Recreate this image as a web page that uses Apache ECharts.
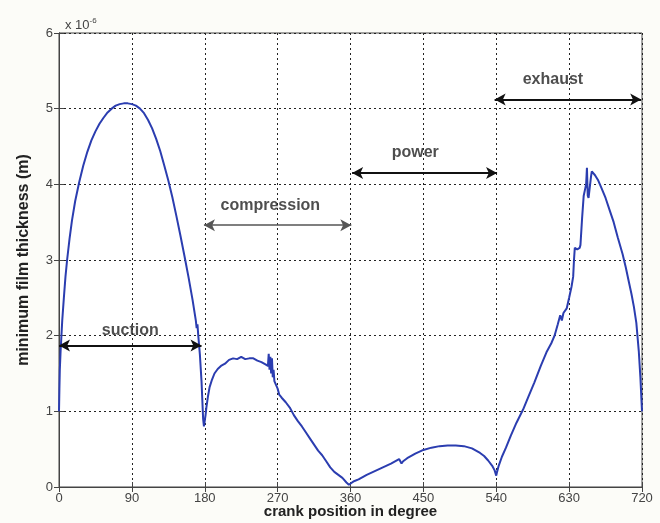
<!DOCTYPE html>
<html><head><meta charset="utf-8">
<script src="https://cdn.jsdelivr.net/npm/echarts@6/dist/echarts.min.js"></script>
<style>html,body{margin:0;padding:0;background:#fcfcf8}#c{width:660px;height:523px}</style>
</head><body><div id="c"></div>
<script>
// crank angle (deg) and minimum film thickness (x 1e-6 m)
const crankDeg = [0,0.5,1,2,3,4,6,8,10,13,16,20,25,30,35,40,45,50,55,60,65,70,75,80,85,90,95,100,105,110,115,120,125,130,135,140,145,150,155,160,165,169,170,171,172,174,176,177,178,179,180,181,182,184,186,189,192,196,200,205,210,215,220,225,230,235,240,245,250,255,258,259,260,261,262,263,264,265,266,268,270,272,275,280,285,290,295,300,305,310,315,320,325,330,335,340,345,350,355,358,360,362,365,370,380,390,400,410,420,422,423,425,430,440,450,460,470,480,490,500,510,520,525,530,535,538,540,541,543,547,552,558,565,573,580,587,595,602,608,612,616,619,621,623,627,630,633,635,636,637,640,643,644,646,648,650,651,652,653,654,656,657,658,662,666,670,675,680,685,690,696,700,704,707,710,713,716,718,720];
const filmThickness = [1.0,1.3,1.55,1.8,2.0,2.2,2.5,2.78,3.0,3.28,3.52,3.78,4.03,4.25,4.43,4.58,4.7,4.8,4.88,4.95,5.0,5.04,5.06,5.07,5.07,5.06,5.04,5.0,4.94,4.85,4.74,4.6,4.44,4.25,4.05,3.83,3.58,3.32,3.05,2.77,2.47,2.2,2.1,2.15,2.0,1.75,1.4,1.15,0.9,0.8,0.82,0.95,1.05,1.2,1.32,1.42,1.5,1.56,1.6,1.63,1.68,1.7,1.69,1.72,1.69,1.7,1.7,1.67,1.65,1.62,1.6,1.76,1.55,1.72,1.5,1.7,1.45,1.55,1.4,1.35,1.3,1.22,1.18,1.12,1.05,0.95,0.87,0.8,0.72,0.64,0.56,0.48,0.42,0.34,0.26,0.2,0.16,0.12,0.06,0.03,0.02,0.06,0.08,0.1,0.16,0.21,0.26,0.31,0.37,0.38,0.31,0.34,0.38,0.44,0.49,0.52,0.54,0.55,0.55,0.54,0.51,0.45,0.41,0.35,0.28,0.22,0.15,0.2,0.28,0.4,0.52,0.68,0.85,1.02,1.2,1.38,1.6,1.78,1.9,2.0,2.15,2.27,2.2,2.3,2.36,2.5,2.65,2.78,3.0,3.16,3.14,3.16,3.2,3.55,3.85,3.95,4.0,4.22,3.85,3.82,3.8,4.1,4.17,4.12,4.05,3.95,3.82,3.66,3.5,3.3,3.08,2.9,2.7,2.55,2.38,2.17,1.8,1.45,1.0];
const xTicks = [0,90,180,270,360,450,540,630,720];
const yTicks = [0,1,2,3,4,5,6];
// stroke annotations: name, start deg, end deg, level
const strokeNames = ['suction','compression','power','exhaust'];
const strokeStart = [0,179,362,538];
const strokeEnd = [176,361,541,719];
const strokeLevel = [1.87,3.46,4.15,5.12];
const strokeLabelX = [88,261,440,610];
const strokeLabelY = [2.07,3.72,4.42,5.39];

const font = "'Liberation Sans Narrow','Liberation Sans',Arial,sans-serif";
const boldFont = "'Liberation Sans',Arial,sans-serif";
const gridLine = {show:true, lineStyle:{color:'#222', type:[2,3], width:1}};
const chart = echarts.init(document.getElementById('c'));
const arrowColors = ['#111','#555','#111','#111'];
const arrowWidths = [2,1.5,2,2];
chart.setOption({
  backgroundColor:'#fcfcf8',
  animation:false,
  title:{text:'x 10{s|-6}', left:60, top:12, textStyle:{fontFamily:font, fontSize:13, fontWeight:'normal', color:'#444', rich:{s:{fontSize:8, verticalAlign:'top', padding:[0,0,8,0], color:'#444'}}}},
  grid:{left:59, right:18, top:33, bottom:36, outerBoundsMode:'none', containLabel:false, show:true, backgroundColor:'#ffffff', borderColor:'#444', borderWidth:1},
  xAxis:[{type:'value', min:0, max:720, interval:90,
    name:'crank position in degree', nameLocation:'middle', nameGap:17, nameMoveOverlap:false,
    nameTextStyle:{fontFamily:boldFont, fontWeight:'bold', fontSize:15, color:'#222'},
    axisLine:{show:true, lineStyle:{color:'#444'}}, axisTick:{show:true, inside:true, length:5, lineStyle:{color:'#444'}},
    axisLabel:{fontFamily:font, fontSize:13, color:'#444', margin:5, formatter:v=>xTicks.includes(v)?String(v):''},
    splitLine:gridLine},
   {type:'value', position:'top', min:0, max:720, interval:90, axisLine:{show:true, lineStyle:{color:'#444'}}, axisTick:{show:true, inside:true, length:5, lineStyle:{color:'#444'}}, axisLabel:{show:false}, splitLine:{show:false}}],
  yAxis:[{type:'value', min:0, max:6, interval:1,
    name:'minimum film thickness (m)', nameLocation:'middle', nameGap:27, nameMoveOverlap:false,
    nameTextStyle:{fontFamily:boldFont, fontWeight:'bold', fontSize:16, color:'#222'},
    axisLine:{show:true, lineStyle:{color:'#444'}}, axisTick:{show:true, inside:true, length:5, lineStyle:{color:'#444'}},
    axisLabel:{fontFamily:font, fontSize:13, color:'#444', margin:6, formatter:v=>yTicks.includes(v)?String(v):''},
    splitLine:gridLine},
   {type:'value', position:'right', min:0, max:6, interval:1, axisLine:{show:true, lineStyle:{color:'#444'}}, axisTick:{show:true, inside:true, length:5, lineStyle:{color:'#444'}}, axisLabel:{show:false}, splitLine:{show:false}}],
  series:[
    {type:'line', data:crankDeg.map((d,i)=>[d,filmThickness[i]]), showSymbol:false, symbol:'none',
     lineStyle:{color:'#2b3db0', width:2}, z:3},
    {type:'line', data:[], symbol:'none', silent:true,
     markLine:{silent:true, symbol:['arrow','arrow'], symbolSize:[9,11], label:{show:false},
       data:strokeNames.map((n,i)=>[
         {coord:[strokeStart[i],strokeLevel[i]], lineStyle:{color:arrowColors[i], width:arrowWidths[i], type:'solid'}, itemStyle:{color:arrowColors[i]}},
         {coord:[strokeEnd[i],strokeLevel[i]]}])}, z:4},
    {type:'scatter', symbolSize:0, silent:true, z:5,
     data:strokeNames.map((n,i)=>({name:n, value:[strokeLabelX[i],strokeLabelY[i]]})),
     label:{show:true, position:'inside', formatter:p=>p.name, fontFamily:boldFont, fontWeight:'bold', fontSize:16, color:'#222'}}
  ]
});
</script></body></html>
